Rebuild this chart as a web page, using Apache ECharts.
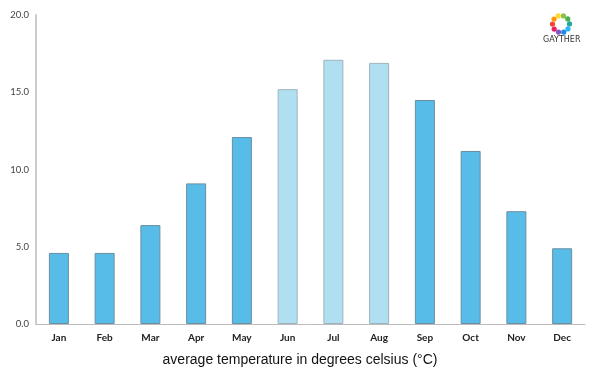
<!DOCTYPE html>
<html><head><meta charset="utf-8">
<script src="https://cdn.jsdelivr.net/npm/echarts@6/dist/echarts.min.js"></script>
<style>html,body{margin:0;padding:0;background:#fff}#c{width:600px;height:375px}</style>
</head><body><div id="c"></div>
<script>
var months = ['Jan','Feb','Mar','Apr','May','Jun','Jul','Aug','Sep','Oct','Nov','Dec'];
var temps = [4.6, 4.6, 6.4, 9.1, 12.1, 15.2, 17.1, 16.9, 14.5, 11.2, 7.3, 4.9];
var summerMonths = ['Jun','Jul','Aug'];
var yTicks = [0, 5, 10, 15, 20];
var titleText = 'average temperature in degrees celsius (°C)';

var chart = echarts.init(document.getElementById('c'));
var logoColors = ['#8bc34a','#4caf50','#26a69a','#29b6f6','#1e88e5','#7e57c2','#e91e63','#f44336','#ff9800','#fdd835'];
var logo = [];
for (var i = 0; i < logoColors.length; i++) {
  var a = i / logoColors.length * Math.PI * 2 - Math.PI / 2 + 0.3;
  logo.push({type:'circle', shape:{cx:561 + 8.5*Math.cos(a), cy:24 + 8.5*Math.sin(a), r:2.6}, style:{fill:logoColors[i]}});
}
logo.push({type:'text', left:543, top:36, style:{text:'GAYTHER', font:'8px "DejaVu Sans"', fill:'#333'}});

chart.setOption({
  animation:false,
  grid:{left:36, right:15, top:15, bottom:51},
  title:{text:titleText, left:'center', bottom:3, textStyle:{fontFamily:'"Liberation Sans", Arial', fontSize:14, fontWeight:'normal', color:'#111'}},
  xAxis:{type:'category', data:months,
    axisLine:{lineStyle:{color:'#bbb', width:1}}, axisTick:{show:false},
    axisLabel:{color:'#222', fontSize:10, fontWeight:'bold', fontFamily:'Lato, "Open Sans", sans-serif', margin:9}},
  yAxis:{type:'value', min:yTicks[0], max:yTicks[yTicks.length-1], interval:5,
    axisLine:{show:true, lineStyle:{color:'#ccc', width:2}}, axisTick:{show:false}, splitLine:{show:false},
    axisLabel:{color:'#444', fontSize:9.5, fontFamily:'Lato, "Open Sans", sans-serif', margin:7,
      formatter:function(v){return v.toFixed(1);}}},
  series:[{type:'bar', barWidth:20,
    data:temps.map(function(v,i){
      var s = summerMonths.indexOf(months[i]) >= 0;
      return {value:v, itemStyle:{color: s ? '#b1dff2' : '#57bde8', borderColor: s ? '#9fb3bd' : '#6a8fa0', borderWidth:1}};
    })}],
  graphic:logo
});
</script></body></html>
